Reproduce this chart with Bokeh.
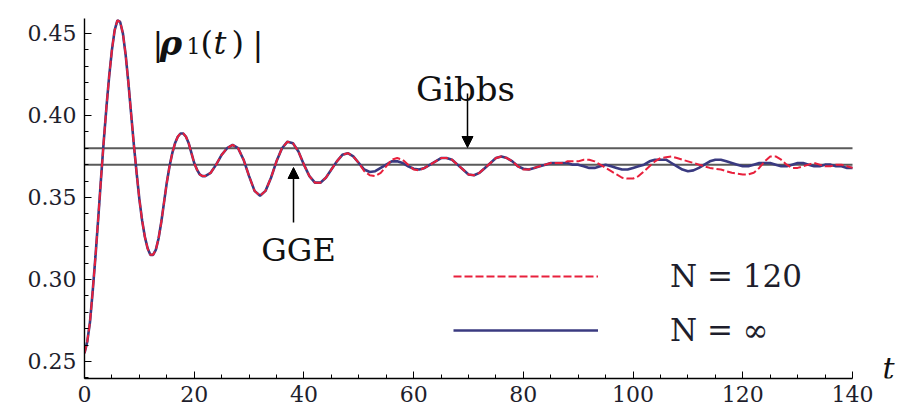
import numpy as np
from bokeh.plotting import figure
from bokeh.models import (Range1d, FixedTicker, PrintfTickFormatter, Label,
                          Arrow, NormalHead, Legend, LegendItem)
from bokeh.embed import file_html
from bokeh.resources import INLINE

# ---------------- data ----------------
t_fine = list(np.arange(0, 22.5, 0.5))
t_coarse = list(range(23, 141))
t_values = t_fine + t_coarse

# common part of both curves, t = 0 .. 22 (step 0.5)
rho_start = [0.255, 0.262, 0.274, 0.293, 0.314, 0.337, 0.361, 0.384, 0.405, 0.424,
             0.440, 0.452, 0.458, 0.457, 0.450, 0.437, 0.420, 0.401, 0.382, 0.365,
             0.349, 0.336, 0.326, 0.319, 0.315, 0.315, 0.318, 0.325, 0.335, 0.347,
             0.359, 0.369, 0.377, 0.383, 0.387, 0.389, 0.389, 0.387, 0.383, 0.377,
             0.371, 0.367, 0.364, 0.363, 0.363]
# common part, t = 23 .. 50 (step 1)
rho_mid = [0.365, 0.370, 0.376, 0.380, 0.382, 0.380, 0.373, 0.363, 0.354, 0.351,
           0.354, 0.362, 0.372, 0.380, 0.384, 0.383, 0.378, 0.370, 0.363, 0.359,
           0.359, 0.362, 0.367, 0.372, 0.376, 0.377, 0.375, 0.371]
# N = infinity, t = 51 .. 140
rho_inf_tail = [0.367, 0.3655, 0.366, 0.368, 0.370, 0.372, 0.372, 0.371, 0.369, 0.3675,
                0.367, 0.368, 0.370, 0.372, 0.374, 0.374, 0.373, 0.370, 0.367, 0.364,
                0.3635, 0.365, 0.368, 0.371, 0.374, 0.375, 0.374, 0.372, 0.369, 0.3675,
                0.367, 0.368, 0.369, 0.370, 0.371, 0.371, 0.371, 0.371, 0.370, 0.370,
                0.369, 0.368, 0.368, 0.369, 0.370, 0.369, 0.368, 0.367, 0.367, 0.368,
                0.369, 0.370, 0.372, 0.373, 0.373, 0.373, 0.371, 0.369, 0.367, 0.366,
                0.3665, 0.368, 0.370, 0.372, 0.373, 0.373, 0.372, 0.371, 0.370, 0.369,
                0.369, 0.370, 0.371, 0.371, 0.371, 0.370, 0.369, 0.369, 0.370, 0.371,
                0.371, 0.370, 0.369, 0.369, 0.370, 0.370, 0.369, 0.369, 0.368, 0.368]
# N = 120, t = 51 .. 140
rho_120_tail = [0.366, 0.3635, 0.363, 0.365, 0.369, 0.373, 0.374, 0.373, 0.370, 0.367,
                0.3665, 0.368, 0.370, 0.372, 0.374, 0.374, 0.373, 0.370, 0.367, 0.364,
                0.3635, 0.365, 0.368, 0.371, 0.374, 0.375, 0.374, 0.372, 0.369, 0.367,
                0.367, 0.368, 0.369, 0.370, 0.371, 0.371, 0.371, 0.372, 0.372, 0.372,
                0.373, 0.373, 0.372, 0.370, 0.368, 0.366, 0.364, 0.362, 0.3615, 0.3615,
                0.363, 0.366, 0.369, 0.372, 0.374, 0.3745, 0.375, 0.374, 0.373, 0.372,
                0.371, 0.370, 0.369, 0.368, 0.3675, 0.367, 0.366, 0.365, 0.3645, 0.364,
                0.364, 0.365, 0.368, 0.372, 0.375, 0.375, 0.373, 0.370, 0.368, 0.368,
                0.369, 0.370, 0.371, 0.370, 0.369, 0.369, 0.370, 0.370, 0.369, 0.368]

rho_inf = rho_start + rho_mid + rho_inf_tail
rho_120 = rho_start + rho_mid + rho_120_tail

gibbs_value = 0.380
gge_value = 0.370

x_ticks = [0, 20, 40, 60, 80, 100, 120, 140]
y_ticks = [0.25, 0.30, 0.35, 0.40, 0.45]
series_labels = ["N = 120", "N = \u221e"]

# ---------------- layout helpers ----------------
FL, FR, FT, FB = 84, 907, 18, 378        # plotting frame in screen px
AX_END_PX = 852                          # where the t axis (t = 140) ends
T_MIN, T_MAX = x_ticks[0], x_ticks[-1]
X0 = T_MIN
X1 = T_MIN + (T_MAX - T_MIN) * (FR - FL) / (AX_END_PX - FL)
Y0, Y1 = 0.2396, 0.4591


def px2x(px):
    return X0 + (px - FL) / (FR - FL) * (X1 - X0)


def py2y(py):
    return Y0 + (FB - py) / (FB - FT) * (Y1 - Y0)


SERIF = "DejaVu Serif"
INK = "#1e1e2c"

p = figure(width=907, height=405, output_backend="svg", toolbar_location=None,
           x_range=Range1d(X0, X1), y_range=Range1d(Y0, Y1),
           min_border_left=FL, min_border_right=0,
           min_border_top=FT, min_border_bottom=405 - FB)
p.outline_line_color = None
p.grid.visible = False
p.background_fill_color = "white"

for ax in (p.xaxis[0], p.yaxis[0]):
    ax.axis_line_color = "black"
    ax.axis_line_width = 1.4
    ax.major_tick_line_color = "black"
    ax.minor_tick_line_color = "black"
    ax.major_tick_in = 7
    ax.major_tick_out = 0
    ax.minor_tick_in = 4
    ax.minor_tick_out = 0
    ax.major_label_text_font = SERIF
    ax.major_label_text_font_size = "22px"
    ax.major_label_text_color = INK

p.xaxis.bounds = (T_MIN, T_MAX)
p.xaxis.ticker = FixedTicker(ticks=x_ticks,
                             minor_ticks=[v for v in range(0, 141, 5) if v % 20])
p.yaxis.ticker = FixedTicker(ticks=y_ticks,
                             minor_ticks=[round(0.24 + 0.01 * i, 2) for i in range(22)
                                          if i % 5 != 1])
p.yaxis.formatter = PrintfTickFormatter(format="%.2f")
p.xaxis.major_label_standoff = 7
p.yaxis.major_label_standoff = 8

# reference levels (Gibbs and GGE), drawn over the t axis extent
p.segment(x0=[T_MIN, T_MIN], x1=[T_MAX, T_MAX], y0=[gibbs_value, gge_value],
          y1=[gibbs_value, gge_value], line_color="#5a5a5a", line_width=2)

# curves
r_inf = p.line(t_values, rho_inf, line_color="#3a3a80", line_width=2.6)
r_120 = p.line(t_values, rho_120, line_color="#e8203c", line_width=2.0, line_dash="8 3")

legend = Legend(items=[LegendItem(label=series_labels[0], renderers=[r_120]),
                       LegendItem(label=series_labels[1], renderers=[r_inf])],
                location=(369, 30), orientation="vertical",
                glyph_width=145, glyph_height=30, label_height=30, label_standoff=72,
                spacing=18, padding=0, margin=0,
                border_line_alpha=0, background_fill_alpha=0,
                label_text_font=SERIF, label_text_font_size="31px",
                label_text_font_style="normal", label_text_color=INK)
p.add_layout(legend, "center")

# arrows and annotation texts
p.add_layout(Arrow(end=NormalHead(size=11, fill_color="black", line_color="black"),
                   x_start=px2x(467), y_start=py2y(93), x_end=px2x(467), y_end=py2y(147),
                   line_color="black", line_width=1.5))
p.add_layout(Arrow(end=NormalHead(size=11, fill_color="black", line_color="black"),
                   x_start=px2x(293), y_start=py2y(222), x_end=px2x(293), y_end=py2y(167),
                   line_color="black", line_width=1.5))

p.add_layout(Label(x=px2x(465), y=py2y(88), text="Gibbs", text_align="center",
                   text_baseline="alphabetic", text_font=SERIF, text_font_size="34px",
                   text_color="#111111"))
p.add_layout(Label(x=px2x(298), y=py2y(249), text="GGE", text_align="center",
                   text_baseline="alphabetic", text_font=SERIF, text_font_size="32px",
                   text_color="#111111"))
p.add_layout(Label(x=px2x(888), y=py2y(368), text="t", text_align="center",
                   text_baseline="middle", text_font=SERIF, text_font_size="30px",
                   text_font_style="italic", text_color="#111111"))

# y-axis title  |rho_1(t)|
title_parts = [("|", 152, 43, "32px", "normal"),
               ("\u03c1", 159, 42, "34px", "bold italic"),
               ("1", 186, 45, "22px", "normal"),
               ("(", 200, 42, "32px", "normal"),
               ("t", 213, 42, "32px", "italic"),
               (")", 231, 42, "32px", "normal"),
               ("|", 252, 43, "32px", "normal")]
for txt, lx, by, fs, st in title_parts:
    p.add_layout(Label(x=px2x(lx), y=py2y(by), text=txt, text_align="left",
                       text_baseline="alphabetic", text_font=SERIF, text_font_size=fs,
                       text_font_style=st, text_color="#111111"))

open("out.html", "w").write(file_html(p, INLINE))
